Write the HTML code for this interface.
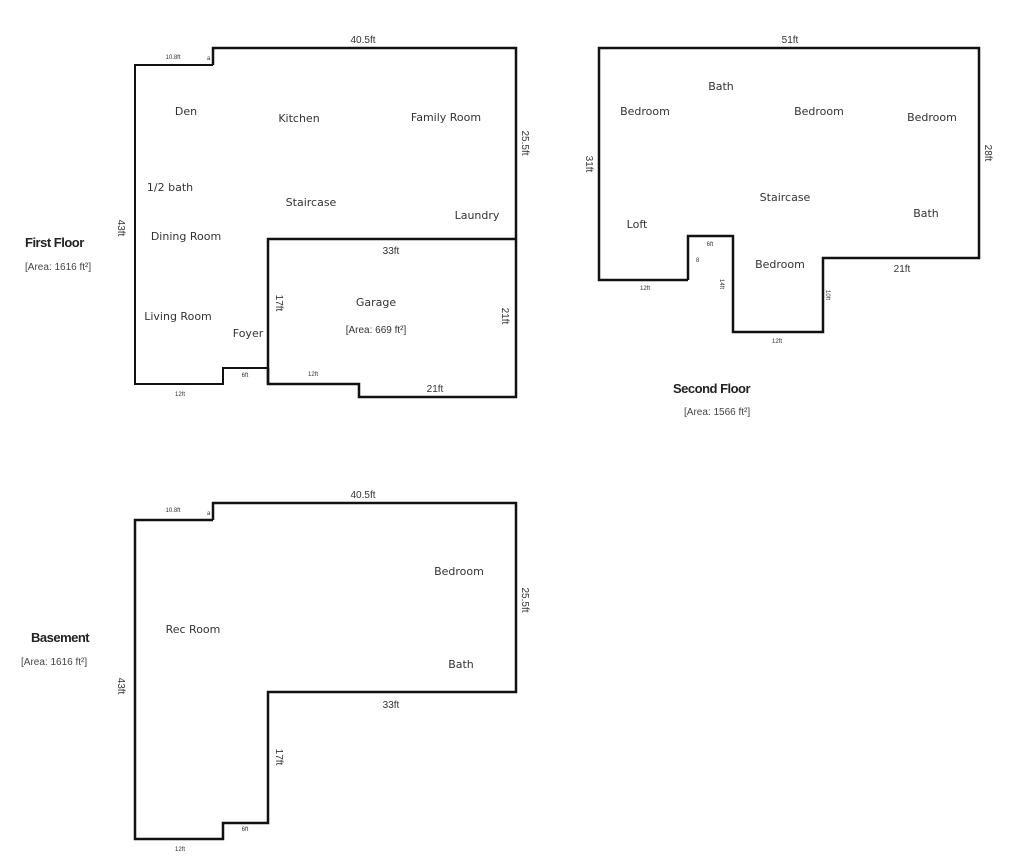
<!DOCTYPE html>
<html><head><style>
body{margin:0;background:#fff;width:1024px;height:864px;overflow:hidden}
svg{display:block}
text{font-family:"DejaVu Sans","Liberation Sans",sans-serif;fill:#333}
.r{font-size:11px}
.d{font-size:10px;font-family:"Liberation Sans",sans-serif}
.s{font-size:6px;font-family:"Liberation Sans",sans-serif}
.t{font-size:13px;font-weight:bold;font-family:"Liberation Sans",sans-serif;fill:#222;letter-spacing:-0.5px}
.a{font-size:10px;font-family:"Liberation Sans",sans-serif;fill:#444}
</style></head><body>
<svg width="1024" height="864" viewBox="0 0 1024 864" xmlns="http://www.w3.org/2000/svg">
<g fill="none" stroke="#111" stroke-width="2.5" stroke-linejoin="miter">
<!-- first floor -->
<polyline points="213,65 135,65 135,384 223,384 223,368 268,368" stroke-width="2"/>
<polyline points="213,65 213,48 516,48 516,397 359,397 359,384 268,384 268,239 516,239"/>
<line x1="268" y1="368" x2="268" y2="384"/>
<!-- second floor -->
<polyline points="688,280 599,280 599,48 979,48 979,258 823,258 823,332 733,332 733,236 688,236 688,280"/>
<!-- basement -->
<polyline points="213,520 135,520 135,839 223,839 223,823 268,823 268,692 516,692 516,503 213,503 213,520"/>
</g>
<g stroke="#111" stroke-width="1.2" fill="none">
<line x1="733" y1="236" x2="733" y2="332"/>
<line x1="733" y1="332" x2="823" y2="332"/>
</g>
<!-- first floor text -->
<text class="d" x="363" y="43" text-anchor="middle">40.5ft</text>
<text class="s" x="173" y="59" text-anchor="middle">10.8ft</text>
<text class="s" x="207" y="60">a</text>
<text class="r" x="186" y="115" text-anchor="middle">Den</text>
<text class="r" x="299" y="122" text-anchor="middle">Kitchen</text>
<text class="r" x="446" y="121" text-anchor="middle">Family Room</text>
<text class="r" x="170" y="191" text-anchor="middle">1/2 bath</text>
<text class="r" x="311" y="206" text-anchor="middle">Staircase</text>
<text class="r" x="477" y="219" text-anchor="middle">Laundry</text>
<text class="r" x="186" y="240" text-anchor="middle">Dining Room</text>
<text class="r" x="178" y="320" text-anchor="middle">Living Room</text>
<text class="r" x="248" y="337" text-anchor="middle">Foyer</text>
<text class="r" x="376" y="306" text-anchor="middle">Garage</text>
<text class="d" x="376" y="333" text-anchor="middle">[Area: 669 ft²]</text>
<text class="d" x="391" y="254" text-anchor="middle">33ft</text>
<text class="d" x="435" y="392" text-anchor="middle">21ft</text>
<text class="s" x="313" y="376" text-anchor="middle">12ft</text>
<text class="s" x="245" y="377" text-anchor="middle">6ft</text>
<text class="s" x="180" y="396" text-anchor="middle">12ft</text>
<text class="d" transform="translate(522,143) rotate(90)" text-anchor="middle">25.5ft</text>
<text class="d" transform="translate(502,316) rotate(90)" text-anchor="middle">21ft</text>
<text class="d" transform="translate(276,303) rotate(90)" text-anchor="middle">17ft</text>
<text class="d" transform="translate(118,228) rotate(90)" text-anchor="middle">43ft</text>
<text class="t" x="25" y="247">First Floor</text>
<text class="a" x="25" y="270">[Area: 1616 ft²]</text>
<!-- second floor text -->
<text class="d" x="790" y="43" text-anchor="middle">51ft</text>
<text class="r" x="721" y="90" text-anchor="middle">Bath</text>
<text class="r" x="645" y="115" text-anchor="middle">Bedroom</text>
<text class="r" x="819" y="115" text-anchor="middle">Bedroom</text>
<text class="r" x="932" y="121" text-anchor="middle">Bedroom</text>
<text class="r" x="785" y="201" text-anchor="middle">Staircase</text>
<text class="r" x="926" y="217" text-anchor="middle">Bath</text>
<text class="r" x="637" y="228" text-anchor="middle">Loft</text>
<text class="r" x="780" y="268" text-anchor="middle">Bedroom</text>
<text class="d" x="902" y="272" text-anchor="middle">21ft</text>
<text class="s" x="645" y="290" text-anchor="middle">12ft</text>
<text class="s" x="777" y="343" text-anchor="middle">12ft</text>
<text class="s" x="710" y="246" text-anchor="middle">6ft</text>
<text class="s" x="696" y="262">8</text>
<text class="d" transform="translate(586,164) rotate(90)" text-anchor="middle">31ft</text>
<text class="d" transform="translate(985,153) rotate(90)" text-anchor="middle">28ft</text>
<text class="s" transform="translate(720,284) rotate(90)" text-anchor="middle">14ft</text>
<text class="s" transform="translate(826,295) rotate(90)" text-anchor="middle">10ft</text>
<text class="t" x="673" y="393">Second Floor</text>
<text class="a" x="684" y="415">[Area: 1566 ft²]</text>
<!-- basement text -->
<text class="d" x="363" y="498" text-anchor="middle">40.5ft</text>
<text class="s" x="173" y="512" text-anchor="middle">10.8ft</text>
<text class="s" x="207" y="515">a</text>
<text class="r" x="459" y="575" text-anchor="middle">Bedroom</text>
<text class="r" x="193" y="633" text-anchor="middle">Rec Room</text>
<text class="r" x="461" y="668" text-anchor="middle">Bath</text>
<text class="d" x="391" y="708" text-anchor="middle">33ft</text>
<text class="s" x="245" y="831" text-anchor="middle">6ft</text>
<text class="s" x="180" y="851" text-anchor="middle">12ft</text>
<text class="d" transform="translate(522,600) rotate(90)" text-anchor="middle">25.5ft</text>
<text class="d" transform="translate(276,757) rotate(90)" text-anchor="middle">17ft</text>
<text class="d" transform="translate(118,686) rotate(90)" text-anchor="middle">43ft</text>
<text class="t" x="31" y="642">Basement</text>
<text class="a" x="21" y="665">[Area: 1616 ft²]</text>
</svg>
</body></html>
